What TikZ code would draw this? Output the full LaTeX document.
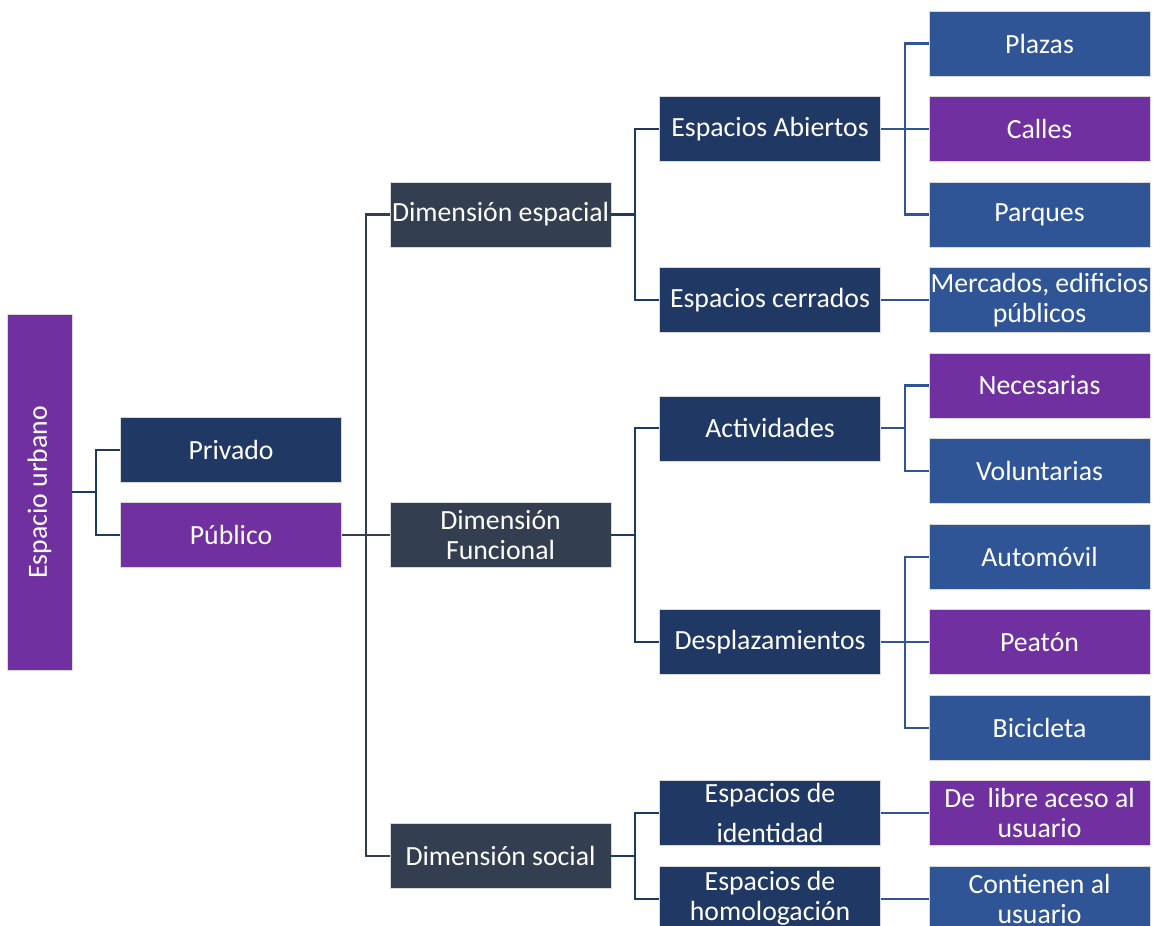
\documentclass[tikz,border=0pt]{standalone}
\usepackage{fontspec}
\setmainfont{Carlito}
\usepackage{xcolor}
\usepackage{tikz}
\usetikzlibrary{positioning,calc}

\definecolor{upurple}{HTML}{7030A0}
\definecolor{unavy}{HTML}{203864}
\definecolor{uslate}{HTML}{333F50}
\definecolor{ublue}{HTML}{2F5597}

\begin{document}
\begin{tikzpicture}[
    x=0.02cm, y=-0.02cm,
    node distance=0.4cm and 0.96cm,
    box/.style={rectangle, draw=white!85!black, line width=0.3pt, text=white, minimum width=4.42cm, minimum height=1.3cm, inner sep=0.5pt, align=center, font=\fontsize{15.8}{17}\selectfont},
    rootnode/.style={box, fill=upurple, minimum width=1.3cm, minimum height=7.12cm},
    dimnode/.style={box, fill=uslate},
    subnode/.style={box, fill=unavy},
    leafnode/.style={box, fill=ublue},
    purplenode/.style={box, fill=upurple},
    navyline/.style={draw=unavy, line width=1.2pt},
    slateline/.style={draw=uslate, line width=1.2pt},
    blueline/.style={draw=ublue, line width=1.2pt}
]
\useasboundingbox (0,0) rectangle (1153,926);

% Leaves
\node[leafnode] (plazas) at (1039.5,43.5) {Plazas};
\node[purplenode, below=of plazas] (calles) {Calles};
\node[leafnode, below=of calles] (parques) {Parques};
\node[leafnode, below=of parques] (mercados) {Mercados, edificios\\públicos};
\node[purplenode, below=of mercados] (necesarias) {Necesarias};
\node[leafnode, below=of necesarias] (voluntarias) {Voluntarias};
\node[leafnode, below=of voluntarias] (automovil) {Automóvil};
\node[purplenode, below=of automovil] (peaton) {Peatón};
\node[leafnode, below=of peaton] (bicicleta) {Bicicleta};
\node[purplenode, below=of bicicleta] (libre) {De\ \ libre aceso al\\usuario};
\node[leafnode, below=of libre] (contienen) {Contienen al\\usuario};

% Level 3
\node[subnode, left=of calles] (abiertos) {Espacios Abiertos};
\node[subnode, left=of mercados] (cerrados) {Espacios cerrados};
\node[subnode, left=of $(necesarias.west)!0.5!(voluntarias.west)$] (actividades) {Actividades};
\node[subnode, left=of peaton] (desplaz) {Desplazamientos};
\node[subnode, left=of libre] (identidad) {Espacios de\\[6pt]identidad};
\node[subnode, left=of contienen] (homolog) {Espacios de\\homologación};

% Dimensions
\node[dimnode, left=of $(abiertos.west)!0.5!(cerrados.west)$] (despacial) {Dimensión espacial};
\node[dimnode, left=of $(actividades.west)!0.5!(desplaz.west)$] (dfuncional) {Dimensión\\Funcional};
\node[dimnode, left=of $(identidad.west)!0.5!(homolog.west)$] (dsocial) {Dimensión social};

% Privado / Publico
\node[purplenode, left=of dfuncional] (publico) {Público};
\node[subnode, above=of publico] (privado) {Privado};

% Root
\node[rootnode, left=of $(privado.west)!0.5!(publico.west)$] (root) {\rotatebox{90}{Espacio urbano}};

% Root to Privado / Publico
\draw[navyline] (root.east) -- ++(24,0) |- (privado.west);
\draw[navyline] (root.east) -- ++(24,0) |- (publico.west);

% Publico to dimensions
\draw[slateline] (publico.east) -- (dfuncional.west);
\draw[slateline] (publico.east) -- ++(24,0) |- (despacial.west);
\draw[slateline] (publico.east) -- ++(24,0) |- (dsocial.west);

% Dimensions to level 3
\draw[navyline] (despacial.east) -- ++(24,0) |- (abiertos.west);
\draw[navyline] (despacial.east) -- ++(24,0) |- (cerrados.west);
\draw[navyline] (dfuncional.east) -- ++(24,0) |- (actividades.west);
\draw[navyline] (dfuncional.east) -- ++(24,0) |- (desplaz.west);
\draw[navyline] (dsocial.east) -- ++(24,0) |- (identidad.west);
\draw[navyline] (dsocial.east) -- ++(24,0) |- (homolog.west);

% Level 3 to leaves
\draw[blueline] (abiertos.east) -- (calles.west);
\draw[blueline] (abiertos.east) -- ++(24,0) |- (plazas.west);
\draw[blueline] (abiertos.east) -- ++(24,0) |- (parques.west);
\draw[blueline] (cerrados.east) -- (mercados.west);
\draw[blueline] (actividades.east) -- ++(24,0) |- (necesarias.west);
\draw[blueline] (actividades.east) -- ++(24,0) |- (voluntarias.west);
\draw[blueline] (desplaz.east) -- (peaton.west);
\draw[blueline] (desplaz.east) -- ++(24,0) |- (automovil.west);
\draw[blueline] (desplaz.east) -- ++(24,0) |- (bicicleta.west);
\draw[blueline] (identidad.east) -- (libre.west);
\draw[blueline] (homolog.east) -- (contienen.west);
\end{tikzpicture}
\end{document}
